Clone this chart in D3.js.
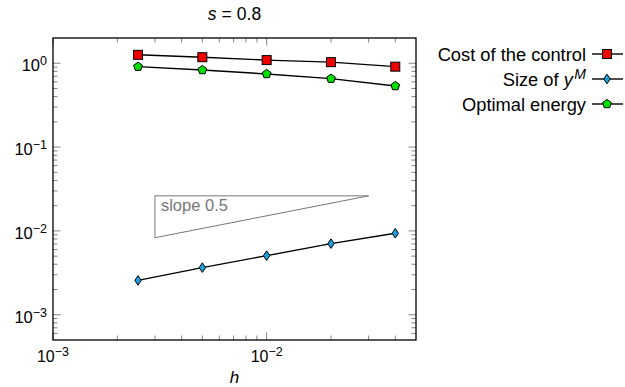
<!DOCTYPE html>
<html>
<head>
<meta charset="utf-8">
<script src="https://cdn.jsdelivr.net/npm/d3@7"></script>
<style>
  body { margin: 0; background: #fff; }
  svg { font-family: "Liberation Sans", Arial, sans-serif; }
</style>
</head>
<body>
<div id="chart"></div>
<script>
// mesh sizes and the three measured quantities
var h = [0.0025, 0.005, 0.01, 0.02, 0.04];
var costControl = [1.26, 1.18, 1.09, 1.03, 0.91];
var sizeYM = [0.00257, 0.00365, 0.00507, 0.00705, 0.00938];
var optEnergy = [0.91, 0.83, 0.745, 0.655, 0.535];
// reference slope triangle (slope 0.5)
var triX = [0.003, 0.03];
var triY = [0.0083, 0.0262];
var xTicks = [1e-3, 1e-2];
var yTicks = [1e-3, 1e-2, 1e-1, 1e0];

var width = 625, height = 387;
var margin = {left: 53, right: 209, top: 38, bottom: 47};

var svg = d3.select("#chart").append("svg")
    .attr("width", width)
    .attr("height", height);

var x = d3.scaleLog().domain([1e-3, 0.05]).range([margin.left, width - margin.right]);
var y = d3.scaleLog().domain([5e-4, 2]).range([height - margin.bottom, margin.top]);

var x0 = x.range()[0], x1 = x.range()[1];
var y0 = y.range()[0], y1 = y.range()[1];

// minor tick positions
var xMinor = [], yMinor = [];
[1e-3, 1e-2].forEach(function(d) {
    for (var k = 2; k <= 9; k++) {
        var v = d * k;
        if (v < 0.05) xMinor.push(v);
    }
});
[1e-4, 1e-3, 1e-2, 1e-1, 1e0].forEach(function(d) {
    for (var k = 2; k <= 9; k++) {
        var v = d * k;
        if (v > 5e-4 && v < 2) yMinor.push(v);
    }
});

var tickCol = "#666";
var g = svg.append("g");

// x ticks, bottom and top, pointing inward
function xTick(v, len) {
    g.append("line").attr("x1", x(v)).attr("x2", x(v))
        .attr("y1", y0).attr("y2", y0 - len)
        .attr("stroke", tickCol).attr("stroke-width", 0.8);
    g.append("line").attr("x1", x(v)).attr("x2", x(v))
        .attr("y1", y1).attr("y2", y1 + len)
        .attr("stroke", tickCol).attr("stroke-width", 0.8);
}
function yTick(v, len) {
    g.append("line").attr("y1", y(v)).attr("y2", y(v))
        .attr("x1", x0).attr("x2", x0 + len)
        .attr("stroke", tickCol).attr("stroke-width", 0.8);
    g.append("line").attr("y1", y(v)).attr("y2", y(v))
        .attr("x1", x1).attr("x2", x1 - len)
        .attr("stroke", tickCol).attr("stroke-width", 0.8);
}
xMinor.forEach(function(v) { xTick(v, 4.5); });
xTicks.forEach(function(v) { xTick(v, 7.5); });
yMinor.forEach(function(v) { yTick(v, 4.5); });
yTicks.forEach(function(v) { yTick(v, 7.5); });

// frame
g.append("rect")
    .attr("x", x0).attr("y", y1)
    .attr("width", x1 - x0).attr("height", y0 - y1)
    .attr("fill", "none").attr("stroke", "#000").attr("stroke-width", 1.3);

// tick labels
function expLabel(sel, v) {
    var e = Math.round(Math.log10(v));
    sel.append("tspan").text("10");
    sel.append("tspan").attr("dy", -6).attr("font-size", 12.5)
        .text(e < 0 ? "\u2212" + (-e) : String(e));
}
xTicks.forEach(function(v) {
    var t = svg.append("text").attr("x", x(v)).attr("y", y0 + 22)
        .attr("text-anchor", "middle").attr("font-size", 16);
    expLabel(t, v);
});
yTicks.forEach(function(v) {
    var t = svg.append("text").attr("x", x0 - 6).attr("y", y(v) + 8)
        .attr("text-anchor", "end").attr("font-size", 16.5);
    expLabel(t, v);
});

// title and axis label
var title = svg.append("text").attr("x", (x0 + x1) / 2).attr("y", 20)
    .attr("text-anchor", "middle").attr("font-size", 17.5);
title.append("tspan").attr("font-style", "italic").text("s");
title.append("tspan").attr("dx", 5).text("=");
title.append("tspan").attr("dx", 5).text("0.8");
svg.append("text").attr("x", (x0 + x1) / 2).attr("y", 383)
    .attr("text-anchor", "middle").attr("font-size", 17)
    .attr("font-style", "italic").text("h");

// slope triangle
var tri = [[triX[0], triY[0]], [triX[1], triY[1]], [triX[0], triY[1]]];
g.append("path")
    .attr("d", d3.line().x(function(d) { return x(d[0]); }).y(function(d) { return y(d[1]); })(tri) + "Z")
    .attr("fill", "none").attr("stroke", "#777").attr("stroke-width", 1);
g.append("text")
    .attr("x", x(triX[0]) + 6).attr("y", y(triY[1]) + 15.5)
    .attr("font-size", 16.5).attr("fill", "#777").text("slope 0.5");

// marker shapes
function square(sel, cx, cy) {
    sel.append("rect").attr("x", cx - 4.5).attr("y", cy - 4.5)
        .attr("width", 9).attr("height", 9)
        .attr("fill", "#ee0000").attr("stroke", "#000").attr("stroke-width", 1);
}
function diamond(sel, cx, cy) {
    sel.append("path")
        .attr("d", "M" + cx + "," + (cy - 4.8) + "L" + (cx + 3.2) + "," + cy +
            "L" + cx + "," + (cy + 4.8) + "L" + (cx - 3.2) + "," + cy + "Z")
        .attr("fill", "#1a9ee0").attr("stroke", "#000").attr("stroke-width", 1);
}
function pentagon(sel, cx, cy) {
    var r = 4.6, pts = [];
    for (var i = 0; i < 5; i++) {
        var a = -Math.PI / 2 + i * 2 * Math.PI / 5;
        pts.push([cx + r * Math.cos(a), cy + r * Math.sin(a)]);
    }
    sel.append("path").attr("d", "M" + pts.join("L") + "Z")
        .attr("fill", "#00e000").attr("stroke", "#000").attr("stroke-width", 1);
}

var series = [
    {name: "Cost of the control", values: costControl, marker: square},
    {name: "Size of ", sup: "M", values: sizeYM, marker: diamond},
    {name: "Optimal energy", values: optEnergy, marker: pentagon}
];

var line = d3.line()
    .x(function(d) { return x(d[0]); })
    .y(function(d) { return y(d[1]); });

series.forEach(function(s) {
    var pts = h.map(function(v, i) { return [v, s.values[i]]; });
    g.append("path").attr("d", line(pts))
        .attr("fill", "none").attr("stroke", "#000").attr("stroke-width", 1.4);
    pts.forEach(function(p) { s.marker(g, x(p[0]), y(p[1])); });
});

// legend, outside right
var leg = svg.append("g");
series.forEach(function(s, i) {
    var ly = 54 + i * 25;
    var t = leg.append("text").attr("x", 586).attr("y", ly + 6.5)
        .attr("text-anchor", "end").attr("font-size", 18.3);
    t.append("tspan").text(s.name);
    if (s.sup) {
        t.append("tspan").attr("font-style", "italic").text("y");
        t.append("tspan").attr("font-style", "italic").attr("font-size", 14)
            .attr("dx", 1.5).attr("dy", -7).text(s.sup);
    }
    leg.append("line").attr("x1", 592).attr("x2", 623)
        .attr("y1", ly).attr("y2", ly)
        .attr("stroke", "#000").attr("stroke-width", 1.4);
    s.marker(leg, 607, ly);
});
</script>
</body>
</html>
